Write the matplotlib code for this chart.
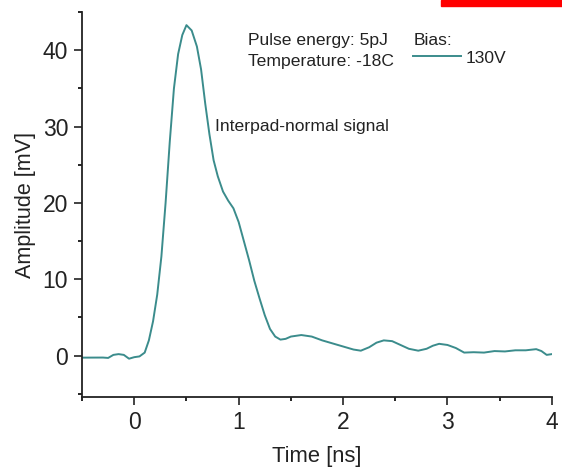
import matplotlib.pyplot as plt
from matplotlib.ticker import MultipleLocator
from matplotlib.patches import Rectangle

plt.rcParams['font.family'] = ['Liberation Sans', 'DejaVu Sans']

# time [ns] and amplitude [mV]
time = [-0.5, -0.3, -0.25, -0.2, -0.15, -0.1, -0.05, 0.0, 0.05, 0.1, 0.14, 0.18,
        0.22, 0.26, 0.3, 0.34, 0.38, 0.42, 0.46, 0.5, 0.55, 0.6, 0.64, 0.68,
        0.72, 0.76, 0.8, 0.85, 0.9, 0.95, 1.0, 1.05, 1.1, 1.15, 1.2, 1.25,
        1.3, 1.35, 1.4, 1.45, 1.5, 1.6, 1.7, 1.8, 1.9, 2.0, 2.1, 2.17, 2.25,
        2.32, 2.39, 2.47, 2.55, 2.63, 2.72, 2.8, 2.86, 2.92, 3.0, 3.08, 3.16,
        3.25, 3.35, 3.45, 3.55, 3.65, 3.75, 3.85, 3.9, 3.95, 4.0]
amp = [-0.26, -0.25, -0.3, 0.1, 0.2, 0.1, -0.4, -0.2, -0.1, 0.4, 2.0, 4.5,
       8.0, 13.0, 20.0, 28.0, 35.0, 39.5, 42.0, 43.3, 42.6, 40.5, 37.5, 33.0,
       29.0, 25.6, 23.5, 21.5, 20.3, 19.3, 17.5, 15.0, 12.5, 9.8, 7.5, 5.3,
       3.5, 2.5, 2.1, 2.2, 2.5, 2.7, 2.5, 2.0, 1.6, 1.2, 0.8, 0.65, 1.1,
       1.7, 2.0, 1.9, 1.4, 0.9, 0.65, 0.9, 1.3, 1.55, 1.4, 1.0, 0.4,
       0.45, 0.4, 0.6, 0.55, 0.7, 0.7, 0.85, 0.6, 0.1, 0.2]

fig = plt.figure(figsize=(5.62, 4.68), dpi=100)
ax = fig.add_axes([0.146, 0.152, 0.836, 0.822])

ax.plot(time, amp, color='#3b8c8c', lw=1.4, label='130V')

ax.set_xlim(-0.5, 4)
ax.set_ylim(-5.4, 45)
ax.xaxis.set_major_locator(MultipleLocator(1))
ax.xaxis.set_minor_locator(MultipleLocator(0.5))
ax.yaxis.set_major_locator(MultipleLocator(10))
ax.yaxis.set_minor_locator(MultipleLocator(5))
ax.tick_params(which='major', direction='out', length=6, width=1.2, labelsize=16.5,
               colors='#222222', pad=4)
ax.tick_params(which='minor', direction='out', length=3, width=1.2)
for s in ['top', 'right']:
    ax.spines[s].set_visible(False)
for s in ['left', 'bottom']:
    ax.spines[s].set_linewidth(1.3)
    ax.spines[s].set_color('#222222')

ax.set_xlabel('Time [ns]', fontsize=15.8, color='#222222', labelpad=9)
ax.set_ylabel('Amplitude [mV]', fontsize=15.5, color='#222222', labelpad=5)

ax.text(1.09, 40.7, 'Pulse energy: 5pJ', fontsize=12.6, color='#222222')
ax.text(1.09, 38.0, 'Temperature: -18C', fontsize=12.6, color='#222222')
ax.text(0.775, 29.4, 'Interpad-normal signal', fontsize=12.6, color='#222222')

leg = ax.legend(title='Bias:', loc='upper left', bbox_to_anchor=(0.705, 0.947),
                frameon=False, fontsize=12.6, title_fontsize=12.6,
                handlelength=2.7, handletextpad=0.3, borderaxespad=0, borderpad=0,
                labelspacing=0.3)
leg._legend_box.align = 'left'
leg._legend_box.sep = 2
for t in leg.get_texts():
    t.set_color('#222222')
leg.get_title().set_color('#222222')

fig.patches.append(Rectangle((441 / 562, 1 - 6 / 468), 121 / 562, 6 / 468,
                             transform=fig.transFigure, color='red', zorder=5))

fig.savefig('out.png', dpi=100)
